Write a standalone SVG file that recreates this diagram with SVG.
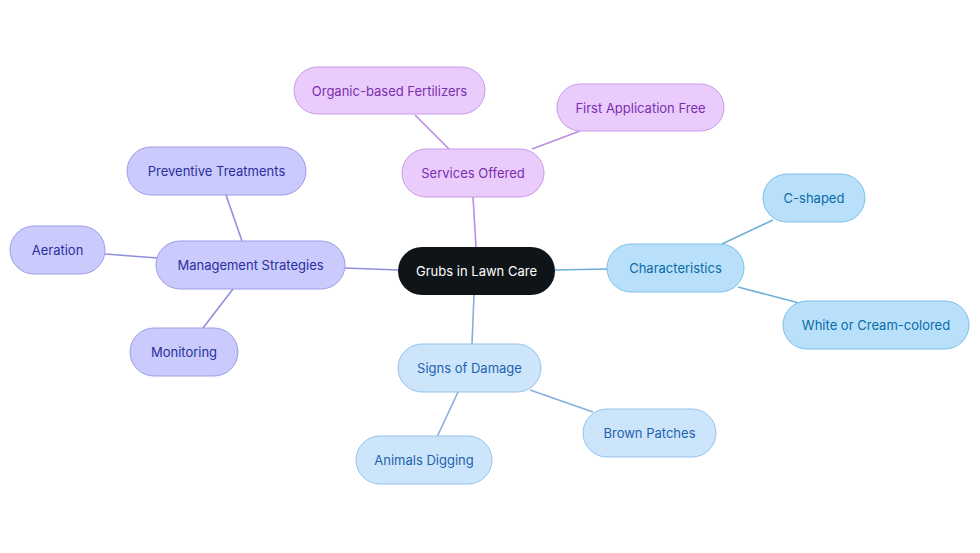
<svg xmlns="http://www.w3.org/2000/svg" width="980" height="553" viewBox="0 0 980 553">
<style>
text{font-family:Inter,"Open Sans","Liberation Sans",sans-serif;font-size:13px;text-anchor:middle;dominant-baseline:central}
.c line{stroke-width:1.6;fill:none}
.pu rect{fill:#e9cbfc;stroke:#c99be8;stroke-width:1}
.pu text{fill:#7b2fae}
.in rect{fill:#cacbfc;stroke:#9c9de6;stroke-width:1}
.in text{fill:#2a2f9c}
.sk rect{fill:#b8e0fb;stroke:#80c0e8;stroke-width:1}
.sk text{fill:#0a6ba6}
.bl rect{fill:#cde5fb;stroke:#96c3eb;stroke-width:1}
.bl text{fill:#1d63ae}
</style>
<rect width="980" height="553" fill="#ffffff"/>
<g class="c" id="connectors">
<line x1="476" y1="247" x2="473" y2="197" stroke="#b98de2"/>
<line x1="449" y1="149" x2="415" y2="115" stroke="#b98de2"/>
<line x1="532" y1="149" x2="580" y2="131" stroke="#b98de2"/>
<line x1="398" y1="270" x2="345" y2="268" stroke="#8f8fdf"/>
<line x1="242" y1="241" x2="226" y2="195" stroke="#8f8fdf"/>
<line x1="157" y1="258" x2="105" y2="254" stroke="#8f8fdf"/>
<line x1="233" y1="289" x2="203" y2="328" stroke="#8f8fdf"/>
<line x1="555" y1="270" x2="607" y2="269" stroke="#6aaed9"/>
<line x1="722" y1="244" x2="773" y2="220" stroke="#6aaed9"/>
<line x1="738" y1="287" x2="799" y2="303" stroke="#6aaed9"/>
<line x1="474" y1="295" x2="472" y2="344" stroke="#80b0e0"/>
<line x1="530" y1="390" x2="593" y2="412" stroke="#80b0e0"/>
<line x1="458" y1="392" x2="437" y2="437" stroke="#80b0e0"/>
</g>
<g id="root"><rect x="398" y="247" width="157" height="48" rx="24" fill="#0f1419"/><text x="476.5" y="271" fill="#ffffff">Grubs in Lawn Care</text></g>
<g id="services" class="pu"><rect x="402" y="149" width="142" height="48" rx="24"/><text x="473" y="173">Services Offered</text></g>
<g id="organic" class="pu"><rect x="294" y="67" width="191" height="47" rx="23.5"/><text x="389.5" y="90.5">Organic-based Fertilizers</text></g>
<g id="firstapp" class="pu"><rect x="557" y="84" width="167" height="47" rx="23.5"/><text x="640.5" y="107.5">First Application Free</text></g>
<g id="management" class="in"><rect x="156" y="241" width="189" height="48" rx="24"/><text x="250.5" y="265">Management Strategies</text></g>
<g id="preventive" class="in"><rect x="127" y="147" width="179" height="48" rx="24"/><text x="216.5" y="171">Preventive Treatments</text></g>
<g id="aeration" class="in"><rect x="10" y="226" width="95" height="48" rx="24"/><text x="57.5" y="250">Aeration</text></g>
<g id="monitoring" class="in"><rect x="130" y="328" width="108" height="48" rx="24"/><text x="184" y="352">Monitoring</text></g>
<g id="characteristics" class="sk"><rect x="607" y="244" width="137" height="48" rx="24"/><text x="675.5" y="268">Characteristics</text></g>
<g id="cshaped" class="sk"><rect x="763" y="174" width="102" height="48" rx="24"/><text x="814" y="198">C-shaped</text></g>
<g id="white" class="sk"><rect x="783" y="301" width="186" height="48" rx="24"/><text x="876" y="325">White or Cream-colored</text></g>
<g id="signs" class="bl"><rect x="398" y="344" width="143" height="48" rx="24"/><text x="469.5" y="368">Signs of Damage</text></g>
<g id="brown" class="bl"><rect x="583" y="409" width="133" height="48" rx="24"/><text x="649.5" y="433">Brown Patches</text></g>
<g id="animals" class="bl"><rect x="356" y="436" width="136" height="48" rx="24"/><text x="424" y="460">Animals Digging</text></g>
</svg>
